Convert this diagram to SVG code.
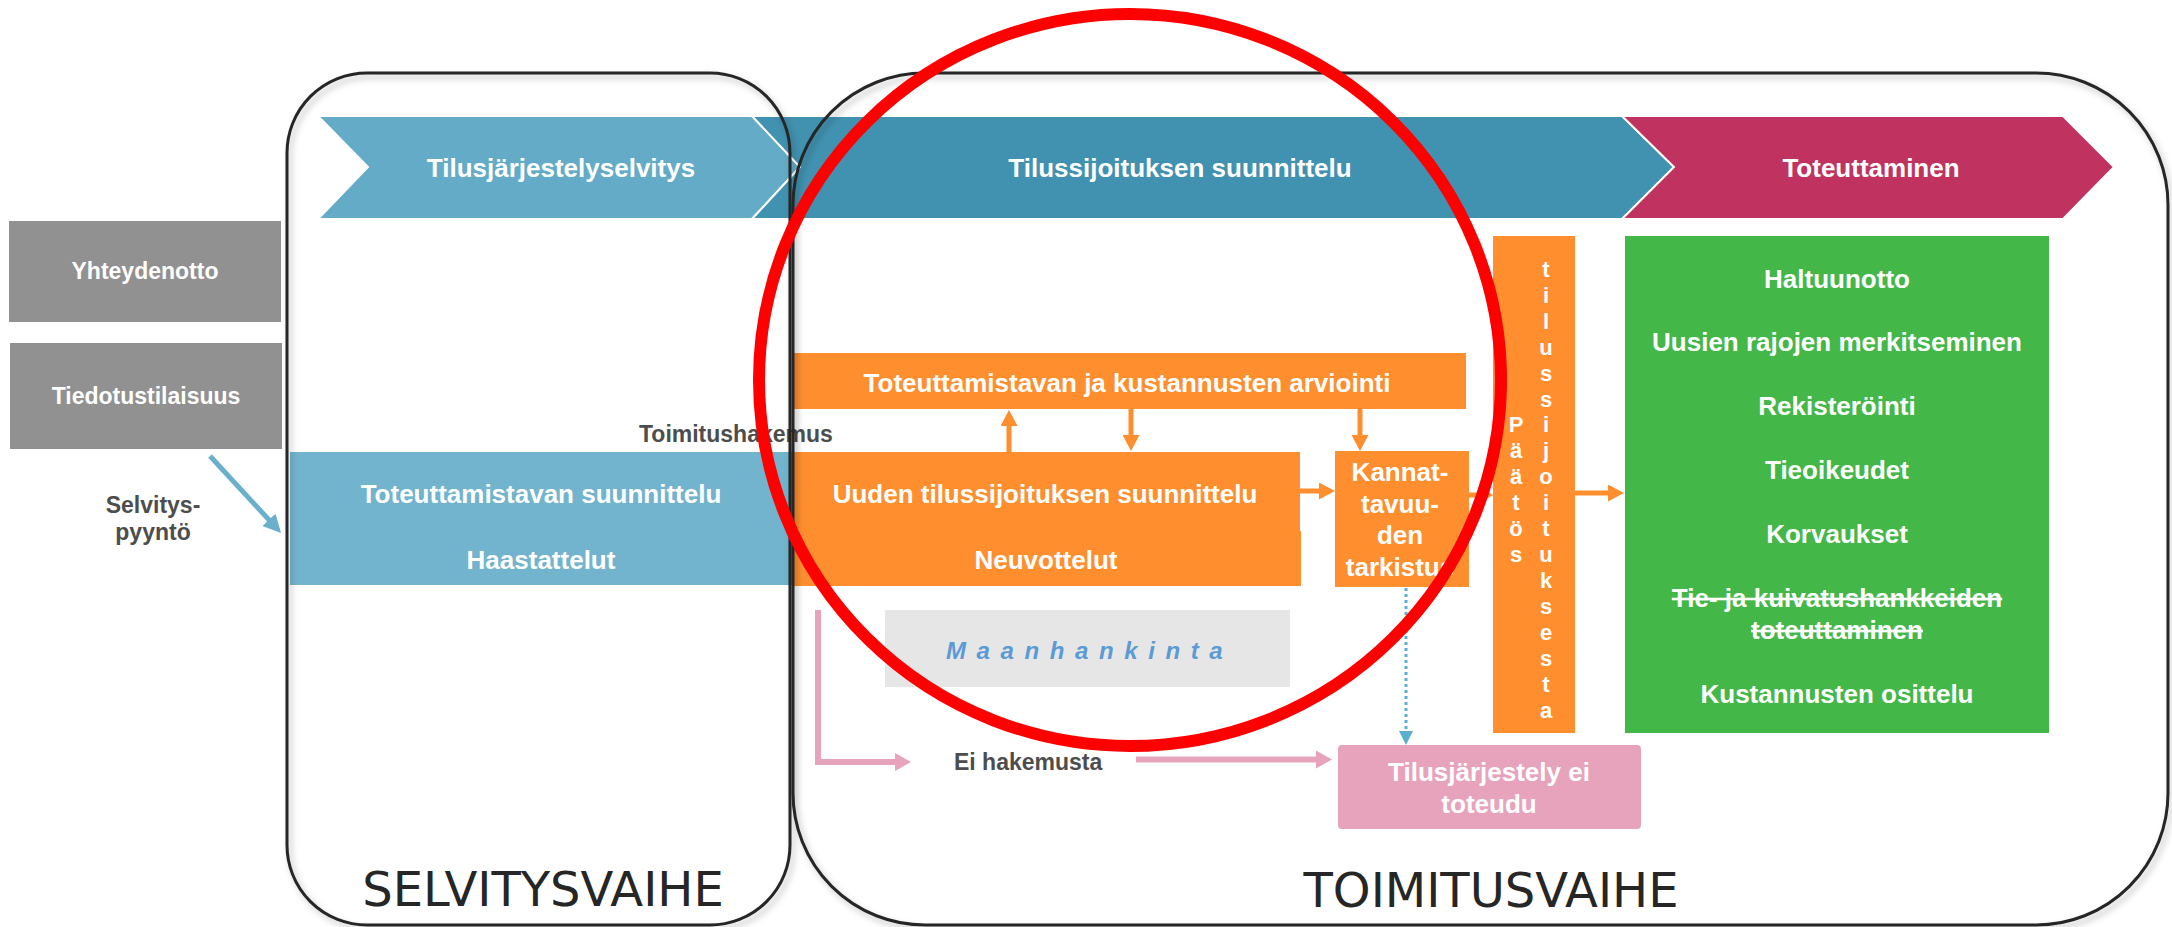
<svg xmlns="http://www.w3.org/2000/svg" width="2172" height="927" viewBox="0 0 2172 927">
<style>
.lbl{font-family:"Liberation Sans",Arial,sans-serif;font-weight:bold;font-size:26px;fill:#fff;text-anchor:middle}
.gl{font-family:"Liberation Sans",Arial,sans-serif;font-weight:bold;font-size:23px;fill:#fff;text-anchor:middle}
.vl{font-family:"Liberation Sans",Arial,sans-serif;font-weight:bold;font-size:22px;fill:#fff;text-anchor:middle}
.side{font-family:"Liberation Sans",Arial,sans-serif;font-weight:bold;font-size:23px;fill:#4d4d4d}
.phase{font-family:"DejaVu Sans",sans-serif;font-size:48px;fill:#262626;text-anchor:middle}
.cont{fill:none;stroke:#262626;stroke-width:3;filter:url(#sh)}
.chev{stroke:#fff;stroke-width:2}
.org{fill:#FF8F2E}
.grey{fill:#919191}
.oa{stroke:#FF8F2E;stroke-width:5;fill:none}
.pa{stroke:#E8A3BC;stroke-width:6;fill:none}
.strike{text-decoration:line-through}
</style>
<defs>
<filter id="sh" x="-5%" y="-5%" width="110%" height="110%">
<feDropShadow dx="3" dy="4" stdDeviation="3" flood-color="#000" flood-opacity="0.25"/>
</filter>
<marker id="mo" markerUnits="userSpaceOnUse" markerWidth="16" markerHeight="17" refX="10" refY="8.5" orient="auto"><path d="M0,0 L16,8.5 L0,17 z" fill="#FF8F2E"/></marker>
<marker id="mos" markerUnits="userSpaceOnUse" markerWidth="10" markerHeight="12" refX="6" refY="6" orient="auto"><path d="M0,0 L10,6 L0,12 z" fill="#FF8F2E"/></marker>
<marker id="mp" markerUnits="userSpaceOnUse" markerWidth="16" markerHeight="18" refX="10" refY="9" orient="auto"><path d="M0,0 L16,9 L0,18 z" fill="#E8A3BC"/></marker>
<marker id="mb" markerUnits="userSpaceOnUse" markerWidth="14" markerHeight="14" refX="8" refY="7" orient="auto"><path d="M0,0 L14,7 L0,14 z" fill="#5BB0CF"/></marker>
<marker id="mbs" markerUnits="userSpaceOnUse" markerWidth="18" markerHeight="18" refX="12" refY="9" orient="auto"><path d="M0,0 L18,9 L0,18 z" fill="#6AB0CC"/></marker>
</defs>

<g id="chevron-selvitys">
<polygon class="chev" fill="#63ABC6" points="318,116 752,116 800,167 752,219 318,219 368,167"/>
<text class="lbl" x="561" y="177">Tilusjärjestelyselvitys</text>
</g>
<g id="chevron-suunnittelu">
<polygon class="chev" fill="#4192B0" points="752,116 1622,116 1674,167 1622,219 752,219 800,167"/>
<text class="lbl" x="1180" y="177">Tilussijoituksen suunnittelu</text>
</g>
<g id="chevron-toteuttaminen">
<polygon class="chev" fill="#C03360" points="1622,116 2063,116 2114,167 2063,219 1622,219 1674,167"/>
<text class="lbl" x="1871" y="177">Toteuttaminen</text>
</g>

<g id="yhteydenotto">
<rect class="grey" x="9" y="221" width="272" height="101"/>
<text class="gl" x="145" y="279">Yhteydenotto</text>
</g>
<g id="tiedotustilaisuus">
<rect class="grey" x="10" y="343" width="272" height="106"/>
<text class="gl" x="146" y="404">Tiedotustilaisuus</text>
</g>
<g id="selvityspyynto">
<text class="side" x="153" y="513" text-anchor="middle">Selvitys-</text>
<text class="side" x="153" y="540" text-anchor="middle">pyyntö</text>
</g>

<g id="toteuttamistavan-suunnittelu">
<rect fill="#72B4CD" x="290" y="452" width="502" height="133"/>
<text class="lbl" x="541" y="503">Toteuttamistavan suunnittelu</text>
<text class="lbl" x="541" y="569">Haastattelut</text>
</g>

<g id="toimitushakemus">
<text class="side" x="639" y="442">Toimitushakemus</text>
</g>

<g id="arviointi">
<rect class="org" x="792" y="353" width="674" height="56"/>
<text class="lbl" x="1127" y="392">Toteuttamistavan ja kustannusten arviointi</text>
</g>

<g id="uuden-tilussijoituksen-suunnittelu">
<rect class="org" x="792" y="452" width="508" height="80"/>
<rect class="org" x="792" y="531" width="509" height="55"/>
<text class="lbl" x="1045" y="503">Uuden tilussijoituksen suunnittelu</text>
<text class="lbl" x="1046" y="569">Neuvottelut</text>
</g>

<g id="kannattavuuden-tarkistus">
<rect class="org" x="1335" y="451" width="134" height="136"/>
<text class="lbl" x="1400" y="481">Kannat-</text>
<text class="lbl" x="1400" y="513">tavuu-</text>
<text class="lbl" x="1400" y="544">den</text>
<text class="lbl" x="1400" y="576">tarkistus</text>
</g>

<g id="paatos">
<rect class="org" x="1493" y="236" width="82" height="497"/>
<text class="vl"><tspan x="1516" y="432">P</tspan><tspan x="1516" y="458">ä</tspan><tspan x="1516" y="484">ä</tspan><tspan x="1516" y="510">t</tspan><tspan x="1516" y="536">ö</tspan><tspan x="1516" y="562">s</tspan></text>
<text class="vl"><tspan x="1546" y="277">t</tspan><tspan x="1546" y="303">i</tspan><tspan x="1546" y="329">l</tspan><tspan x="1546" y="355">u</tspan><tspan x="1546" y="381">s</tspan><tspan x="1546" y="407">s</tspan><tspan x="1546" y="432">i</tspan><tspan x="1546" y="458">j</tspan><tspan x="1546" y="484">o</tspan><tspan x="1546" y="510">i</tspan><tspan x="1546" y="536">t</tspan><tspan x="1546" y="562">u</tspan><tspan x="1546" y="588">k</tspan><tspan x="1546" y="614">s</tspan><tspan x="1546" y="640">e</tspan><tspan x="1546" y="666">s</tspan><tspan x="1546" y="692">t</tspan><tspan x="1546" y="718">a</tspan></text>
</g>

<g id="toteuttaminen-tehtavat">
<rect fill="#44B749" x="1625" y="236" width="424" height="497"/>
<text class="lbl" x="1837" y="288">Haltuunotto</text>
<text class="lbl" x="1837" y="351">Uusien rajojen merkitseminen</text>
<text class="lbl" x="1837" y="415">Rekisteröinti</text>
<text class="lbl" x="1837" y="479">Tieoikeudet</text>
<text class="lbl" x="1837" y="543">Korvaukset</text>
<text class="lbl strike" x="1837" y="607">Tie- ja kuivatushankkeiden</text>
<text class="lbl strike" x="1837" y="639">toteuttaminen</text>
<text class="lbl" x="1837" y="703">Kustannusten osittelu</text>
</g>

<g id="maanhankinta">
<rect fill="#E6E6E6" x="885" y="610" width="405" height="77"/>
<text x="946" y="659" font-family="'Liberation Sans',Arial,sans-serif" font-weight="bold" font-style="italic" font-size="24" letter-spacing="10.6" fill="#5B9BD5">Maanhankinta</text>
</g>

<g id="ei-hakemusta">
<text class="side" x="954" y="770">Ei hakemusta</text>
</g>

<g id="ei-toteudu">
<rect fill="#E8A3BC" x="1338" y="745" width="303" height="84" rx="4"/>
<text class="lbl" x="1489" y="781" font-size="25">Tilusjärjestely ei</text>
<text class="lbl" x="1489" y="813" font-size="25">toteudu</text>
</g>

<g id="connectors">
<line x1="210" y1="456" x2="277" y2="528.6" stroke="#6AB0CC" stroke-width="5" marker-end="url(#mbs)"/>
<line class="oa" x1="1009" y1="452" x2="1009" y2="416" marker-end="url(#mo)"/>
<line class="oa" x1="1131" y1="409" x2="1131" y2="445" marker-end="url(#mo)"/>
<line class="oa" x1="1360" y1="409" x2="1360" y2="445" marker-end="url(#mo)"/>
<line class="oa" x1="1300" y1="491" x2="1329" y2="491" marker-end="url(#mo)"/>
<line class="oa" x1="1469" y1="495" x2="1489" y2="495" stroke-width="4" marker-end="url(#mos)"/>
<line class="oa" x1="1575" y1="493" x2="1618" y2="493" marker-end="url(#mo)"/>
<path class="pa" d="M818,610 V762 H905" marker-end="url(#mp)"/>
<line class="pa" x1="1136" y1="759.5" x2="1326" y2="759.5" marker-end="url(#mp)"/>
<line x1="1406" y1="588" x2="1406" y2="739" stroke="#5BB0CF" stroke-width="3" stroke-dasharray="3,3" marker-end="url(#mb)"/>
</g>

<g id="selvitysvaihe">
<rect class="cont" x="287" y="73" width="503" height="852" rx="80" ry="80"/>
<text class="phase" x="543" y="906">SELVITYSVAIHE</text>
</g>
<g id="toimitusvaihe">
<rect class="cont" x="793" y="73" width="1375" height="852" rx="132" ry="132"/>
<text class="phase" x="1491" y="907">TOIMITUSVAIHE</text>
</g>

<g id="highlight">
<ellipse cx="1130" cy="380" rx="371" ry="366" fill="none" stroke="#FF0000" stroke-width="12"/>
</g>
</svg>
